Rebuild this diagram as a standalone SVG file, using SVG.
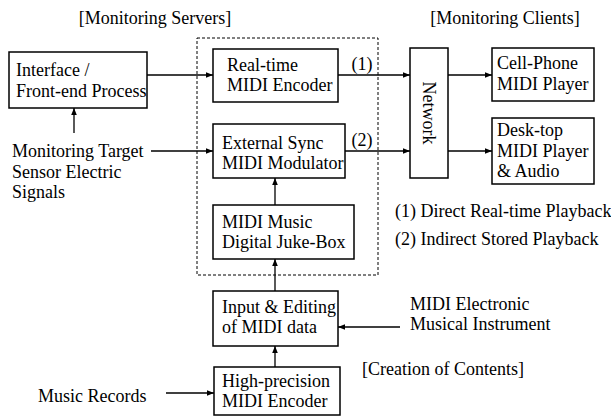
<svg xmlns="http://www.w3.org/2000/svg" width="611" height="418" viewBox="0 0 611 418">
<style>
text{font-family:"Liberation Serif","Times New Roman",serif;font-size:18px;fill:#000}
.box{fill:#fff;stroke:#000;stroke-width:1.5}
.ln{stroke:#000;stroke-width:1.3;fill:none}
.dash{fill:none;stroke:#000;stroke-width:1;stroke-dasharray:3,2}
</style>
<defs>
<marker id="ah" viewBox="0 0 10 10" refX="10" refY="5" markerWidth="7" markerHeight="7" markerUnits="userSpaceOnUse" orient="auto">
<path d="M0,1 L10,5 L0,9 z" fill="#000"/>
</marker>
</defs>
<rect width="611" height="418" fill="#fff"/>
<text x="155" y="24" text-anchor="middle">[Monitoring Servers]</text>
<text x="505" y="24" text-anchor="middle">[Monitoring Clients]</text>
<rect class="dash" x="197" y="38" width="181" height="237"/>
<g id="connectors">
<line class="ln" x1="147" y1="75" x2="213" y2="75" marker-end="url(#ah)"/>
<line class="ln" x1="151" y1="151" x2="213" y2="151" marker-end="url(#ah)"/>
<line class="ln" x1="74" y1="133" x2="74" y2="108" marker-end="url(#ah)"/>
<line class="ln" x1="275" y1="205" x2="275" y2="178" marker-end="url(#ah)"/>
<line class="ln" x1="275" y1="291" x2="275" y2="259" marker-end="url(#ah)"/>
<line class="ln" x1="275" y1="367" x2="275" y2="346" marker-end="url(#ah)"/>
<line class="ln" x1="166" y1="393" x2="214" y2="393" marker-end="url(#ah)"/>
<line class="ln" x1="400" y1="327" x2="338" y2="327" marker-end="url(#ah)"/>
<line class="ln" x1="338" y1="75" x2="410" y2="75" marker-end="url(#ah)"/>
<line class="ln" x1="345" y1="151" x2="410" y2="151" marker-end="url(#ah)"/>
<line class="ln" x1="448" y1="75" x2="492" y2="75" marker-end="url(#ah)"/>
<line class="ln" x1="448" y1="151" x2="492" y2="151" marker-end="url(#ah)"/>
<text x="362" y="70" text-anchor="middle">(1)</text>
<text x="362" y="146" text-anchor="middle">(2)</text>
</g>
<g id="interface">
<rect class="box" x="9" y="52" width="138" height="56"/>
<text x="16" y="76">Interface /</text>
<text x="16" y="97">Front-end Process</text>
</g>
<g id="target">
<text x="12" y="157">Monitoring Target</text>
<text x="12" y="178">Sensor Electric</text>
<text x="12" y="198">Signals</text>
</g>
<g id="realtime">
<rect class="box" x="213" y="49" width="125" height="53"/>
<text x="227" y="71">Real-time</text>
<text x="227" y="91">MIDI Encoder</text>
</g>
<g id="extsync">
<rect class="box" x="213" y="124" width="132" height="54"/>
<text x="222" y="149">External Sync</text>
<text x="222" y="169">MIDI Modulator</text>
</g>
<g id="jukebox">
<rect class="box" x="213" y="205" width="141" height="54"/>
<text x="222" y="228">MIDI Music</text>
<text x="222" y="248">Digital Juke-Box</text>
</g>
<g id="input">
<rect class="box" x="213" y="291" width="125" height="55"/>
<text x="222" y="313">Input &amp; Editing</text>
<text x="222" y="333">of MIDI data</text>
</g>
<g id="hp">
<rect class="box" x="214" y="367" width="126" height="48"/>
<text x="222" y="387">High-precision</text>
<text x="222" y="407">MIDI Encoder</text>
</g>
<g id="records">
<text x="38" y="402">Music Records</text>
</g>
<g id="instrument">
<text x="410" y="310">MIDI Electronic</text>
<text x="410" y="330">Musical Instrument</text>
</g>
<g id="network">
<rect class="box" x="410" y="48" width="38" height="130"/>
<text x="0" y="0" text-anchor="middle" transform="translate(423,113) rotate(90)">Network</text>
</g>
<g id="cell">
<rect class="box" x="492" y="48" width="102" height="53"/>
<text x="497" y="69">Cell-Phone</text>
<text x="497" y="90">MIDI Player</text>
</g>
<g id="desk">
<rect class="box" x="492" y="118" width="102" height="66"/>
<text x="497" y="136">Desk-top</text>
<text x="497" y="157">MIDI Player</text>
<text x="497" y="177">&amp; Audio</text>
</g>
<g id="legend">
<text x="395" y="217">(1) Direct Real-time Playback</text>
<text x="395" y="245">(2) Indirect Stored Playback</text>
<text x="362" y="375">[Creation of Contents]</text>
</g>
</svg>
